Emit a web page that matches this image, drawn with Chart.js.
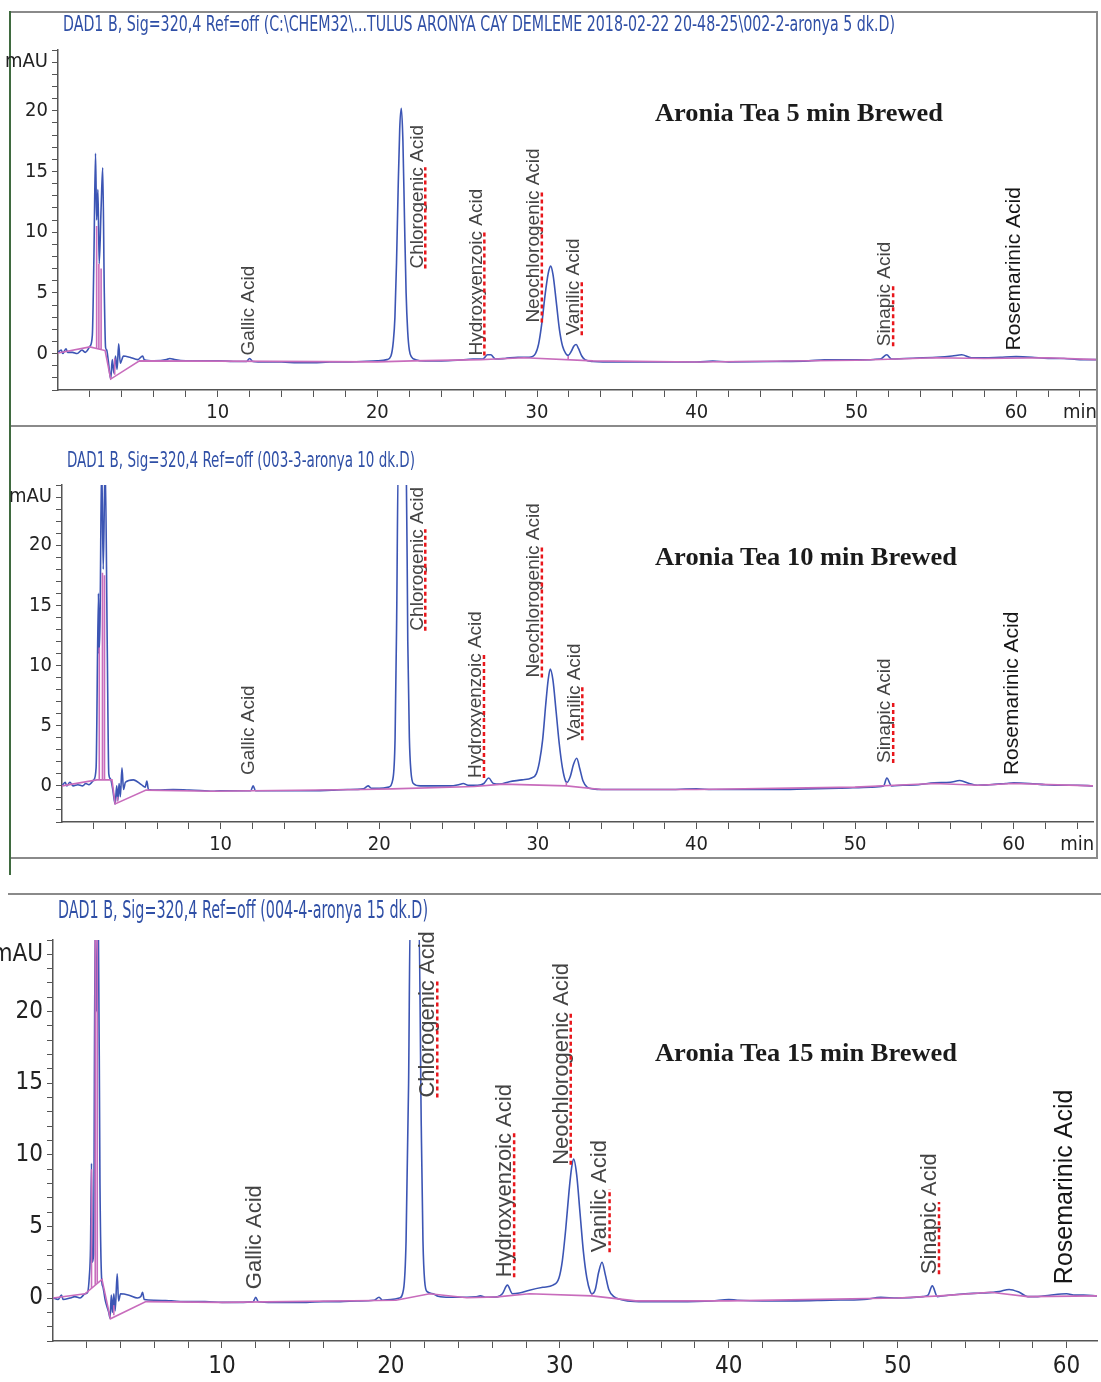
<!DOCTYPE html>
<html>
<head>
<meta charset="utf-8">
<script src="https://cdn.jsdelivr.net/npm/chart.js@4.4.1/dist/chart.umd.min.js"></script>
<style>
  body { margin: 0; background: #fff; width: 1101px; height: 1382px; position: relative; overflow: hidden; }
  canvas { position: absolute; left: 0; }
  .line { position: absolute; background: #8a8a8a; }
  .green { position: absolute; background: #3f6a3f; }
  .sig { position: absolute; white-space: nowrap; color: #2f4fa6; line-height: 1;
         font-family: 'Liberation Sans Narrow', 'DejaVu Sans Condensed', Arial, sans-serif; transform-origin: 0 50%; }
  .brew { position: absolute; white-space: nowrap; color: #1b1b1b; line-height: 1; font-weight: bold;
          font-family: 'Liberation Serif', 'DejaVu Serif', serif; transform-origin: 0 50%; }
</style>
</head>
<body>
<div class="line" style="left:10px;top:11px;width:1088px;height:2px"></div>
<div class="line" style="left:1096px;top:11px;width:2px;height:848px"></div>
<div class="line" style="left:10px;top:425px;width:1088px;height:2px"></div>
<div class="line" style="left:10px;top:857px;width:1088px;height:2px"></div>
<div class="green" style="left:9px;top:11px;width:2px;height:864px"></div>
<div class="line" style="left:8px;top:893px;width:1093px;height:2px"></div>

<canvas id="c5" width="1101" height="430" style="top:0px"></canvas>
<canvas id="c10" width="1101" height="420" style="top:440px"></canvas>
<canvas id="c15" width="1101" height="482" style="top:900px"></canvas>

<div class="sig" data-w="832" style="left:63px;top:14px;font-size:21px">DAD1 B, Sig=320,4 Ref=off (C:\CHEM32\...TULUS ARONYA CAY DEMLEME 2018-02-22 20-48-25\002-2-aronya 5 dk.D)</div>
<div class="sig" data-w="348" style="left:67px;top:450px;font-size:21px">DAD1 B, Sig=320,4 Ref=off (003-3-aronya 10 dk.D)</div>
<div class="sig" data-w="370" style="left:58px;top:898px;font-size:24px">DAD1 B, Sig=320,4 Ref=off (004-4-aronya 15 dk.D)</div>
<div class="brew" data-w="288" style="left:655px;top:100px;font-size:25px">Aronia Tea 5 min Brewed</div>
<div class="brew" data-w="302" style="left:655px;top:544px;font-size:25px">Aronia Tea 10 min Brewed</div>
<div class="brew" data-w="302" style="left:655px;top:1040px;font-size:25px">Aronia Tea 15 min Brewed</div>

<script>
// axis labels
const xLabels = [10, 20, 30, 40, 50, 60];
const yLabels = [0, 5, 10, 15, 20];

// peak names (first word carries the red spell-check underline where flagged)
const peakNames = ["Gallic Acid", "Chlorogenic Acid", "Hydroxyenzoic Acid", "Neochlorogenic Acid",
                   "Vanilic Acid", "Sinapic Acid", "Rosemarinic Acid"];
const underlined = [false, true, true, true, true, true, false];

// label anchors: retention time, bottom of label (mAU)
const labelT5 = [11.94, 22.5, 26.2, 29.8, 32.3, 51.8, 59.9];
const labelV5 = [-0.16, 7.0, -0.16, 2.55, 1.5, 0.6, 0.25];
const labelT10 = [11.76, 22.4, 26.1, 29.75, 32.3, 51.9, 59.9];
const labelV10 = [0.9, 12.9, 0.66, 9.0, 3.8, 1.9, 0.9];
const labelT15 = [11.95, 22.2, 26.75, 30.1, 32.4, 51.9, 59.9];
const labelV15 = [0.62, 14.0, 1.45, 9.3, 3.2, 1.66, 0.97];

// 5 min brew signal
const time5 = [0, 0.2, 0.3, 0.5, 0.6, 0.9, 1.2, 1.5, 1.7, 2.0, 2.15, 2.25, 2.35, 2.42, 2.5, 2.58, 2.7, 2.8, 2.9, 2.98,
  3.05, 3.15, 3.3, 3.4, 3.5, 3.6, 3.7, 3.8, 3.9, 4.1, 4.5, 5.0, 5.3, 5.4, 6.0, 6.8, 7.0, 7.3, 8.0, 9.0,
  10.0, 11.0, 11.8, 12.0, 12.2, 13.0, 14.0, 15.0, 16.0, 17.0, 18.0, 19.0, 20.0, 20.6, 20.85, 21.0, 21.1, 21.2, 21.3, 21.4,
  21.5, 21.6, 21.7, 21.8, 21.9, 22.0, 22.15, 22.4, 23.0, 24.0, 25.0, 26.0, 26.6, 26.9, 27.1, 27.4, 28.0, 28.8, 29.5, 29.9,
  30.1, 30.3, 30.5, 30.7, 30.85, 31.0, 31.2, 31.4, 31.6, 31.8, 31.95, 32.15, 32.3, 32.45, 32.6, 32.8, 33.0, 33.5, 35.0, 38.0,
  40.0, 41.0, 42.0, 45.0, 47.0, 48.0, 50.0, 51.5, 51.9, 52.2, 53.0, 55.0, 56.0, 56.6, 57.2, 58.0, 59.0, 60.0, 61.0, 62.0,
  63.0, 64.0, 65.0];
const sig5 = [0.1, 0.3, 0.0, 0.4, 0.1, 0.1, 0.0, 0.3, 0.1, 0.6, 1.5, 8, 16.5, 11, 13.5, 7.4, 12, 15.3, 5, 0.5,
  0.3, -0.6, -2.1, -0.5, -1.6, -0.2, -1.3, 0.8, -0.8, -0.2, -0.3, -0.5, -0.2, -0.5, -0.6, -0.5, -0.4, -0.5, -0.6, -0.6,
  -0.6, -0.65, -0.65, -0.4, -0.65, -0.7, -0.7, -0.75, -0.75, -0.7, -0.7, -0.65, -0.6, -0.5, -0.2, 1.0, 3, 7.5, 13.5, 18.5,
  20.2, 17.5, 11, 5, 1.8, 0.3, -0.3, -0.5, -0.6, -0.6, -0.55, -0.45, -0.45, -0.1, -0.1, -0.45, -0.4, -0.3, -0.3, 0.0,
  0.8, 2.5, 4.8, 6.6, 7.2, 6.5, 4.3, 2.0, 0.6, 0.0, -0.15, 0.2, 0.6, 0.75, 0.4, -0.2, -0.5, -0.65, -0.7, -0.7,
  -0.7, -0.62, -0.68, -0.65, -0.6, -0.52, -0.52, -0.45, -0.1, -0.45, -0.4, -0.3, -0.2, -0.1, -0.35, -0.35, -0.3, -0.25, -0.3, -0.4,
  -0.4, -0.5, -0.5];
// integration baseline + drop lines (null breaks the line)
const baseT5 = [0, 2.0, 2.95, 3.3, 5.1, 10, 20, 22.2, 26.5, 27.4, 29.2, 33.5, 40, 50, 55, 58, 62, 65, 65,
  2.42, 2.42, 2.42, 2.56, 2.56, 2.56, 2.7, 2.7, 2.7, 3.55, 3.55, 3.55, 31.95, 31.95];
const baseV5 = [0.05, 0.55, 0.25, -2.1, -0.6, -0.62, -0.68, -0.6, -0.5, -0.45, -0.35, -0.6, -0.7, -0.55, -0.35, -0.4, -0.35, -0.5, null,
  0.4, 10.5, null, 0.35, 7.4, null, 0.3, 7.0, null, -1.75, -0.4, null, -0.45, -0.2];

// 10 min brew signal
const time10 = [0, 0.2, 0.3, 0.5, 0.7, 1.0, 1.3, 1.5, 1.7, 2.0, 2.15, 2.3, 2.33, 2.4, 2.5, 2.6, 2.72, 2.85, 2.95, 3.05,
  3.2, 3.35, 3.45, 3.52, 3.6, 3.68, 3.78, 3.88, 4.0, 4.5, 5.0, 5.25, 5.35, 5.45, 6.0, 7.0, 8.0, 9.0, 9.5, 10.0,
  11.0, 11.9, 12.05, 12.2, 13.0, 14.0, 15.0, 16.0, 17.0, 18.0, 19.0, 19.3, 19.5, 20.0, 20.6, 20.85, 21.0, 21.1, 21.2, 21.7,
  21.8, 21.9, 22.0, 22.15, 22.6, 23.5, 24.5, 25.0, 25.3, 25.6, 26.2, 26.6, 26.9, 27.2, 27.6, 28.2, 29.0, 29.6, 29.9, 30.1,
  30.3, 30.5, 30.65, 30.78, 30.95, 31.15, 31.35, 31.55, 31.75, 31.85, 32.05, 32.25, 32.45, 32.65, 32.85, 33.1, 33.5, 34.0, 36.0, 38.0,
  40.0, 41.0, 43.0, 45.0, 47.0, 49.0, 51.0, 51.8, 52.0, 52.3, 53.0, 54.0, 55.0, 56.0, 56.6, 57.2, 57.7, 58.5, 59.5, 60.0,
  61.0, 62.0, 63.0, 64.0, 65.0];
const sig10 = [0.0, 0.3, 0.0, 0.3, 0.0, 0.1, 0.0, 0.2, 0.1, 0.5, 1.5, 16, 11, 14, 27, 18, 27, 12, 1, 0.6,
  -0.3, -1.5, 0, -1.2, 0.2, -0.9, 1.5, -0.3, 0.3, 0.5, 0.1, -0.1, 0.4, -0.3, -0.35, -0.3, -0.35, -0.4, -0.45, -0.4,
  -0.4, -0.4, 0.0, -0.4, -0.4, -0.4, -0.4, -0.4, -0.35, -0.3, -0.25, 0.0, -0.2, -0.2, -0.1, 0.5, 4, 14, 27, 27,
  12, 4, 1.2, 0.2, 0.0, 0.0, 0.0, 0.1, 0.2, 0.05, 0.05, 0.2, 0.65, 0.2, 0.15, 0.35, 0.5, 0.65, 1.0, 2.0,
  3.8, 6.8, 8.8, 9.7, 8.8, 6.2, 3.5, 1.5, 0.4, 0.3, 0.8, 1.8, 2.3, 1.4, 0.4, -0.1, -0.25, -0.3, -0.3, -0.3,
  -0.25, -0.3, -0.3, -0.3, -0.25, -0.2, -0.1, 0.0, 0.65, 0.0, 0.05, 0.1, 0.25, 0.3, 0.45, 0.2, 0.05, 0.1, 0.2, 0.25,
  0.2, 0.1, 0.05, 0.05, 0.0];
const baseT10 = [0, 2.2, 3.15, 3.35, 5.3, 9.5, 12, 19, 20.8, 26.0, 27.8, 31.8, 34.0, 40, 50, 52.5, 55, 57.8, 60, 65, 65,
  2.35, 2.35, 2.35, 2.55, 2.55, 2.55, 2.68, 2.68, 2.68, 3.5, 3.5, 3.5, 31.8, 31.8];
const baseV10 = [0, 0.5, 0.5, -1.5, -0.35, -0.45, -0.4, -0.3, -0.25, -0.05, 0.15, 0.0, -0.3, -0.3, -0.1, 0.05, 0.2, 0.05, 0.2, 0.0, null,
  0.5, 11.5, null, 0.5, 17.7, null, 0.5, 17.5, null, -1.3, -0.9, null, 0.0, 0.3];

// 15 min brew signal
const time15 = [0, 0.3, 0.5, 0.6, 1.0, 1.3, 1.6, 1.9, 2.05, 2.15, 2.22, 2.28, 2.32, 2.4, 2.5, 2.58, 2.68, 2.78, 2.88, 2.95,
  3.1, 3.3, 3.38, 3.45, 3.52, 3.6, 3.68, 3.8, 3.88, 4.0, 4.5, 5.0, 5.2, 5.3, 5.4, 6.0, 7.0, 8.0, 9.0, 10.0,
  11.0, 11.85, 12.0, 12.15, 13.0, 14.0, 15.0, 16.0, 17.0, 18.0, 19.0, 19.3, 19.5, 20.0, 20.5, 20.75, 20.9, 21.05, 21.15, 21.65,
  21.8, 21.9, 22.0, 22.15, 22.5, 22.8, 23.5, 24.5, 25.0, 25.3, 25.6, 26.3, 26.6, 26.9, 27.2, 27.6, 28.2, 29.0, 29.6, 29.95,
  30.15, 30.35, 30.55, 30.7, 30.82, 31.0, 31.2, 31.4, 31.6, 31.8, 31.9, 32.1, 32.3, 32.5, 32.7, 32.9, 33.2, 33.6, 34.0, 35.0,
  37.0, 39.0, 40.0, 40.5, 42.0, 44.0, 46.0, 48.0, 49.0, 50.0, 51.5, 51.8, 52.05, 52.35, 53.0, 54.0, 55.0, 56.0, 56.6, 57.2,
  57.7, 58.3, 59.0, 60.0, 60.5, 61.0, 61.8];
const sig15 = [0.0, -0.1, 0.2, -0.1, 0.0, 0.1, 0.0, 0.3, 0.4, 1.5, 3.5, 9.4, 2.5, 3, 27, 20, 27, 8, 1.3, 0.8,
  -0.2, -1.0, -1.4, 0.2, -1.0, 0.3, -0.9, 1.7, -0.2, 0.3, 0.2, 0.0, 0.1, 0.4, -0.1, -0.15, -0.2, -0.25, -0.25, -0.3,
  -0.3, -0.25, 0.05, -0.25, -0.3, -0.3, -0.3, -0.25, -0.25, -0.2, -0.15, 0.05, -0.15, -0.1, 0.0, 0.6, 4, 15, 27, 27,
  12, 4, 1.2, 0.45, 0.3, 0.12, 0.05, 0.05, 0.08, 0.15, 0.05, 0.08, 0.3, 0.9, 0.3, 0.35, 0.55, 0.75, 0.9, 1.4,
  2.6, 4.8, 7.5, 9.1, 9.7, 8.6, 5.9, 3.2, 1.4, 0.45, 0.3, 0.6, 1.8, 2.5, 1.6, 0.6, 0.1, -0.1, -0.2, -0.25,
  -0.25, -0.2, -0.1, -0.15, -0.2, -0.2, -0.15, -0.1, 0.05, 0.0, 0.1, 0.2, 0.85, 0.1, 0.2, 0.3, 0.35, 0.45, 0.6, 0.4,
  0.1, 0.1, 0.2, 0.3, 0.2, 0.2, 0.15];
const baseT15 = [0, 1.9, 2.9, 3.4, 5.5, 10, 20.3, 22.3, 24.5, 26.3, 28.2, 31.9, 34.5, 40, 50, 52.5, 55.5, 57.7, 61.8, 61.8,
  2.28, 2.28, 2.28, 2.5, 2.5, 2.5, 2.62, 2.62, 2.62, 3.6, 3.6, 3.6, 31.9, 31.9];
const baseV15 = [0, 0.3, 1.3, -1.45, -0.25, -0.3, -0.15, 0.3, 0.02, 0.08, 0.3, 0.15, -0.2, -0.2, 0.0, 0.15, 0.4, 0.1, 0.15, null,
  0.7, 9.0, null, 0.9, 27, null, 1.0, 27, null, -1.2, -0.5, null, 0.15, 0.3];

const AXIS_FONT = "'Liberation Sans Narrow', 'DejaVu Sans Condensed', Arial, sans-serif";

const peakLabelPlugin = {
  id: "peakLabels",
  afterDatasetsDraw(chart, args, opts) {
    const { ctx } = chart;
    const x = chart.scales.x, y = chart.scales.y;
    opts.times.forEach((t, i) => {
      const big = i === 6;
      const size = big ? opts.bigSize : opts.size;
      ctx.save();
      ctx.translate(x.getPixelForValue(t), y.getPixelForValue(opts.values[i]));
      ctx.rotate(-Math.PI / 2);
      ctx.font = `${size}px 'Liberation Sans', Arial, sans-serif`;
      ctx.fillStyle = big ? "#161616" : "#444";
      ctx.textAlign = "left";
      ctx.textBaseline = "middle";
      ctx.fillText(peakNames[i], 0, 0);
      if (underlined[i]) {
        const w = ctx.measureText(peakNames[i].split(" ")[0]).width;
        ctx.strokeStyle = "#e8161b";
        ctx.lineWidth = 2.5;
        ctx.setLineDash([4, 3]);
        ctx.beginPath();
        ctx.moveTo(0, size * 0.42);
        ctx.lineTo(w, size * 0.42);
        ctx.stroke();
      }
      ctx.restore();
    });
  },
};

function pts(ts, vs) {
  return ts.map((t, i) => ({ x: t, y: vs[i] }));
}

function makeChart(id, p) {
  new Chart(document.getElementById(id), {
    type: "scatter",
    data: {
      datasets: [
        { data: pts(p.baseT, p.baseV), showLine: true, borderColor: "#c86cbc", borderWidth: 1.6, pointRadius: 0, tension: 0 },
        { data: pts(p.time, p.sig), showLine: true, borderColor: "#3c55b4", borderWidth: 1.6, pointRadius: 0,
          cubicInterpolationMode: "monotone" },
      ],
    },
    options: {
      responsive: false,
      animation: false,
      devicePixelRatio: 1,
      layout: { padding: { left: 0, right: p.padRight, top: p.padTop, bottom: 0 } },
      plugins: {
        legend: { display: false },
        tooltip: { enabled: false },
        peakLabels: { times: p.labelT, values: p.labelV, size: p.labelSize, bigSize: p.bigSize },
      },
      scales: {
        x: {
          type: "linear",
          min: 0,
          max: p.xMax,
          afterBuildTicks: (s) => {
            const tk = [];
            for (let v = 2; v <= p.xMax; v += 2) tk.push({ value: v });
            s.ticks = tk;
          },
          afterFit: (s) => { s.height = p.xHeight; },
          ticks: {
            autoSkip: false,
            maxRotation: 0,
            padding: 4,
            color: "#222",
            font: { family: AXIS_FONT, size: p.tickSize },
            callback: (v) => (xLabels.includes(v) ? String(v) : v === 64 ? "min" : ""),
          },
          grid: { drawOnChartArea: false, drawTicks: true, tickLength: 7, color: "#555" },
          border: { display: true, color: "#555", width: 1.5 },
        },
        y: {
          type: "linear",
          min: -3,
          max: 25,
          afterBuildTicks: (s) => {
            const tk = [];
            for (let v = -3; v <= 25; v++) tk.push({ value: v });
            s.ticks = tk;
          },
          afterFit: (s) => { s.width = p.yWidth; },
          ticks: {
            autoSkip: false,
            padding: 4,
            color: "#222",
            font: { family: AXIS_FONT, size: p.tickSize },
            callback: (v) => (yLabels.includes(v) ? String(v) : v === 24 ? "mAU" : ""),
          },
          grid: { drawOnChartArea: false, drawTicks: true, tickLength: 6, color: "#555" },
          border: { display: true, color: "#555", width: 1.5 },
        },
      },
    },
    plugins: [peakLabelPlugin],
  });
}

makeChart("c5", { time: time5, sig: sig5, baseT: baseT5, baseV: baseV5, labelT: labelT5, labelV: labelV5,
  xMax: 65, padTop: 50, padRight: 4, xHeight: 40, yWidth: 58, tickSize: 20, labelSize: 19, bigSize: 21 });
makeChart("c10", { time: time10, sig: sig10, baseT: baseT10, baseV: baseV10, labelT: labelT10, labelV: labelV10,
  xMax: 65, padTop: 45, padRight: 8, xHeight: 38, yWidth: 62, tickSize: 20, labelSize: 19, bigSize: 21 });
makeChart("c15", { time: time15, sig: sig15, baseT: baseT15, baseV: baseV15, labelT: labelT15, labelV: labelV15,
  xMax: 61.8, padTop: 40, padRight: 4, xHeight: 41, yWidth: 53, tickSize: 24, labelSize: 22, bigSize: 25 });

// squeeze the header texts to the widths they have in the original
document.querySelectorAll("[data-w]").forEach((el) => {
  const w = el.getBoundingClientRect().width;
  el.style.transform = `scaleX(${Number(el.dataset.w) / w})`;
});
</script>
</body>
</html>
